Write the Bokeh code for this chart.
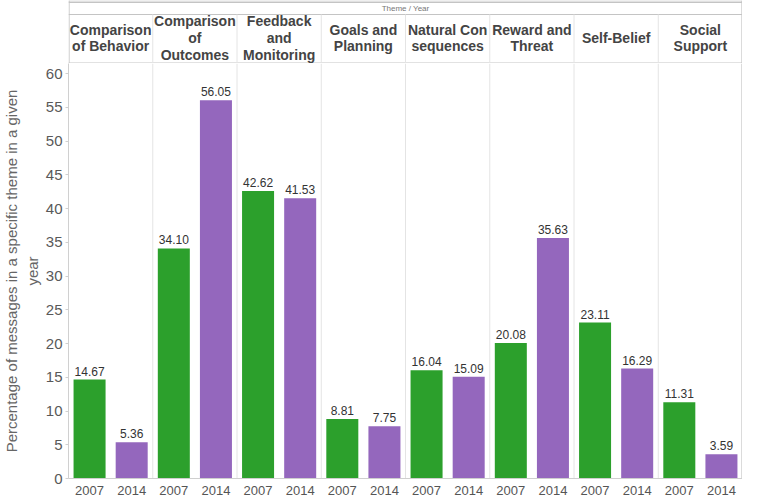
from bokeh.plotting import figure
from bokeh.layouts import column
from bokeh.models import Range1d, FixedTicker
from bokeh.core.properties import value
from bokeh.embed import file_html
from bokeh.resources import INLINE

# ---------------- data ----------------
themes = ["Comparison of Behavior", "Comparison of Outcomes", "Feedback and Monitoring",
          "Goals and Planning", "Natural Consequences", "Reward and Threat",
          "Self-Belief", "Social Support"]
header_labels = ["Comparison\nof Behavior", "Comparison\nof\nOutcomes", "Feedback\nand\nMonitoring",
                 "Goals and\nPlanning", "Natural Con\nsequences", "Reward and\nThreat",
                 "Self-Belief", "Social\nSupport"]
years = ["2007", "2014"]
pct_2007 = [14.67, 34.10, 42.62, 8.81, 16.04, 20.08, 23.11, 11.31]
pct_2014 = [5.36, 56.05, 41.53, 7.75, 15.09, 35.63, 16.29, 3.59]
y_ticks = [0, 5, 10, 15, 20, 25, 30, 35, 40, 45, 50, 55, 60]
axis_title = "Percentage of messages in a specific theme in a given\nyear"
header_title = "Theme / Year"

# ---------------- styles / layout ----------------
GREEN = "#2ca02c"
PURPLE = "#9467bd"
FONT = value("Liberation Sans")
BORDER = "#c4c4c4"
SEP = "#e4e4e4"

W = 742
LEFT = 65
HEAD_H = 63
FRAME_H = 418
FOOT_H = 16
n = len(themes)
k = (W - LEFT) / n          # pixels per theme column
Y_MAX = 61.5
px = 1.0 / k                # one pixel in x data units

idx = list(range(n))
x07 = [i + 0.25 for i in idx]
x14 = [i + 0.75 for i in idx]
xc = [i + 0.5 for i in idx]
seps = list(range(1, n))

xr = Range1d(0, n)

# ---------------- header ----------------
hd = figure(width=W, height=HEAD_H, x_range=xr, y_range=Range1d(0, HEAD_H),
            output_backend="svg", toolbar_location=None,
            x_axis_location=None, y_axis_location=None,
            min_border=0, min_border_left=LEFT, outline_line_color=None)
hd.grid.visible = False
hd.segment(x0=[0, 0, 0.6 * px, n - 0.6 * px, 0, 0],
           y0=[HEAD_H - 0.5, 0.5, 0, 0, HEAD_H - 14, HEAD_H - 2],
           x1=[n, n, 0.6 * px, n - 0.6 * px, n, n],
           y1=[HEAD_H - 0.5, 0.5, HEAD_H, HEAD_H, HEAD_H - 14, HEAD_H - 2],
           line_color=BORDER, line_width=1)
hd.segment(x0=seps, y0=0, x1=seps, y1=HEAD_H - 14, line_color=SEP, line_width=1)
hd.text(x=[n / 2], y=[HEAD_H - 8], text=[header_title], text_align="center",
        text_baseline="middle", text_font=FONT, text_font_size="8px", text_color="#777777")
hd.text(x=xc, y=25.5, text=header_labels, text_align="center", text_baseline="middle",
        text_font=FONT, text_font_size="14px", text_font_style="bold",
        text_color="#444444", text_line_height=1.05)

# ---------------- main plot (with year axis below) ----------------
p = figure(width=W, height=FRAME_H + FOOT_H, x_range=xr, y_range=Range1d(0, Y_MAX),
           output_backend="svg", toolbar_location=None,
           min_border=0, min_border_left=LEFT, min_border_bottom=FOOT_H,
           outline_line_color=None)
p.grid.visible = False
p.segment(x0=seps, y0=0, x1=seps, y1=Y_MAX, line_color=SEP, line_width=1)
p.segment(x0=[n - 0.6 * px], y0=[0], x1=[n - 0.6 * px], y1=[Y_MAX], line_color=BORDER)
p.vbar(x=x07, top=pct_2007, width=0.38, fill_color=GREEN, line_color=None)
p.vbar(x=x14, top=pct_2014, width=0.38, fill_color=PURPLE, line_color=None)
p.text(x=x07, y=pct_2007, text=[f"{v:.2f}" for v in pct_2007], y_offset=-4,
       text_align="center", text_baseline="bottom", text_font=FONT,
       text_font_size="12px", text_color="#333333")
p.text(x=x14, y=pct_2014, text=[f"{v:.2f}" for v in pct_2014], y_offset=-4,
       text_align="center", text_baseline="bottom", text_font=FONT,
       text_font_size="12px", text_color="#333333")

# y axis
ax = p.yaxis[0]
ax.ticker = FixedTicker(ticks=y_ticks)
ax.minor_tick_line_color = None
ax.major_tick_in = 0
ax.major_tick_out = 3
ax.major_tick_line_color = "#d0d0d0"
ax.axis_line_color = "#d0d0d0"
ax.major_label_text_font = "Liberation Sans"
ax.major_label_text_font_size = "15px"
ax.major_label_text_color = "#595959"
ax.major_label_standoff = 3
ax.axis_label = axis_title
ax.axis_label_text_font = "Liberation Sans"
ax.axis_label_text_font_size = "15px"
ax.axis_label_text_font_style = "normal"
ax.axis_label_text_color = "#666666"
ax.axis_label_standoff = 2

# x axis: year under each bar
xa = p.xaxis[0]
year_ticks = sorted(x07 + x14)
xa.ticker = FixedTicker(ticks=year_ticks)
xa.major_label_overrides = {**{x: years[0] for x in x07}, **{x: years[1] for x in x14}}
xa.minor_tick_line_color = None
xa.major_tick_line_color = None
xa.axis_line_color = "#cfcfcf"
xa.major_label_standoff = 1
xa.major_label_text_font = "Liberation Sans"
xa.major_label_text_font_size = "13px"
xa.major_label_text_color = "#555555"

layout = column(hd, p, spacing=0)
open("out.html", "w").write(file_html(layout, INLINE))
